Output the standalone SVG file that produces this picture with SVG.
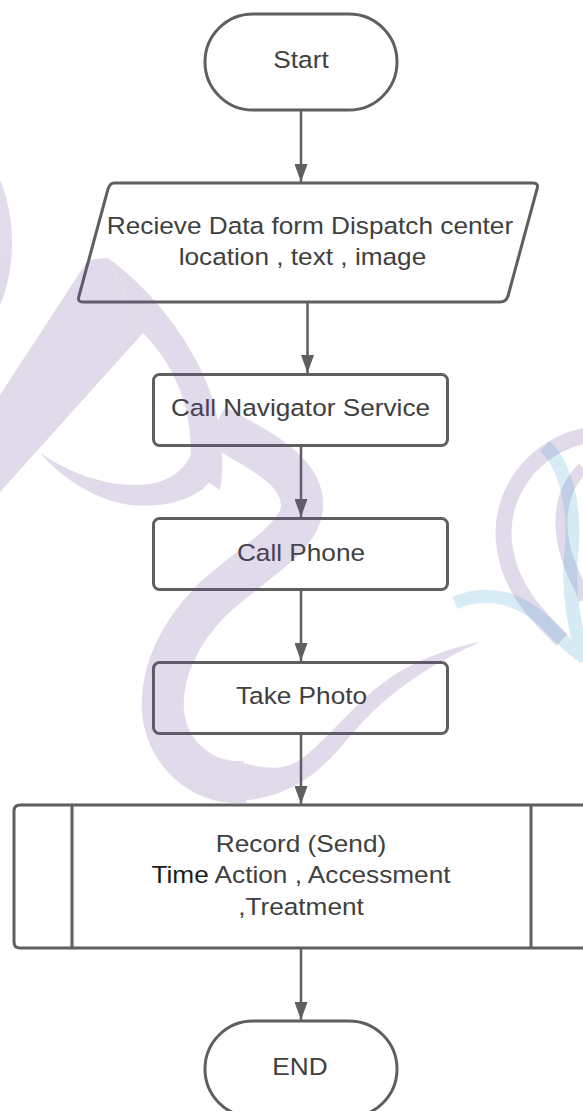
<svg xmlns="http://www.w3.org/2000/svg" width="583" height="1111" viewBox="0 0 583 1111">
  <defs>
    <style>
      .shape{fill:none;stroke:#5f5f5f;stroke-width:3;stroke-linejoin:round}
      .lbl{font-family:"Liberation Sans",Arial,sans-serif;font-size:24.5px;fill:#404040;text-anchor:middle}
      .dark{fill:#1c1c1c}
      .wire{fill:none;stroke:#5f5f5f;stroke-width:2.5}
    </style>
    <marker id="arrow" viewBox="0 0 18 13" refX="18" refY="6.5" markerWidth="18" markerHeight="13" markerUnits="userSpaceOnUse" orient="auto">
      <path d="M0,0 L18,6.5 L0,13 Z" fill="#5f5f5f"/>
    </marker>
  </defs>

  <rect width="583" height="1111" fill="#ffffff"/>

  <!-- flow steps -->
  <g id="start">
    <rect class="shape" x="205" y="14" width="192" height="96" rx="48"/>
    <g transform="translate(301,0) scale(1.07,1)">
      <text class="lbl" x="0" y="68">Start</text>
    </g>
  </g>

  <g id="receive-data">
    <path class="shape" d="M114,183 L533,183 Q539,183 537,189 L508,296 Q506,302 500,302 L83,302 Q77,302 79,296 L108,189 Q110,183 114,183 Z"/>
    <g transform="translate(306,0) scale(1.07,1)">
      <text class="lbl" y="234"><tspan x="3.7">Recieve Data form Dispatch center</tspan><tspan x="-3.3" y="265">location , text , image</tspan></text>
    </g>
  </g>

  <g id="navigator">
    <rect class="shape" x="153.5" y="374.5" width="294" height="71" rx="6"/>
    <g transform="translate(300.5,0) scale(1.07,1)">
      <text class="lbl" x="0" y="416">Call Navigator Service</text>
    </g>
  </g>

  <g id="call-phone">
    <rect class="shape" x="153.5" y="518.5" width="294" height="71" rx="6"/>
    <g transform="translate(301,0) scale(1.07,1)">
      <text class="lbl" x="0" y="561">Call Phone</text>
    </g>
  </g>

  <g id="take-photo">
    <rect class="shape" x="153.5" y="662.5" width="294" height="71" rx="6"/>
    <g transform="translate(301.5,0) scale(1.07,1)">
      <text class="lbl" x="0" y="704">Take Photo</text>
    </g>
  </g>

  <g id="record">
    <path class="shape" d="M600,805 L20,805 Q14,805 14,811 L14,942 Q14,948 20,948 L600,948"/>
    <line class="shape" x1="72" y1="805" x2="72" y2="948"/>
    <line class="shape" x1="531" y1="805" x2="531" y2="948"/>
    <g transform="translate(301,0) scale(1.07,1)">
      <text class="lbl" y="852"><tspan x="0">Record (Send)</tspan><tspan x="0" y="883.5"><tspan class="dark">Time</tspan> Action , Accessment</tspan><tspan x="0" y="915">,Treatment</tspan></text>
    </g>
  </g>

  <g id="end">
    <rect class="shape" x="205" y="1021" width="192" height="96" rx="48"/>
    <g transform="translate(300,0) scale(1.07,1)">
      <text class="lbl" x="0" y="1075">END</text>
    </g>
  </g>

  <!-- connectors -->
  <g id="connectors">
    <line class="wire" x1="301" y1="111" x2="301" y2="182" marker-end="url(#arrow)"/>
    <line class="wire" x1="307.5" y1="303" x2="307.5" y2="373" marker-end="url(#arrow)"/>
    <line class="wire" x1="301" y1="447" x2="301" y2="517" marker-end="url(#arrow)"/>
    <line class="wire" x1="301" y1="591" x2="301" y2="661" marker-end="url(#arrow)"/>
    <line class="wire" x1="301" y1="735" x2="301" y2="804" marker-end="url(#arrow)"/>
    <line class="wire" x1="301" y1="949" x2="301" y2="1020" marker-end="url(#arrow)"/>
  </g>

  <!-- background calligraphy mark, lilac strokes -->
  <g id="mark-lilac" opacity="0.2">
    <g fill="#6e4ba0">
      <path d="M0,180 C15,215 17,265 0,305 Z"/>
      <path d="M88,260 L108,258 L143,333 L0,492 L0,395 Z"/>
      <path d="M108,258 C155,292 205,355 218,420 C222,445 224,470 220,490 L190,470 C195,420 180,370 143,333 Z"/>
      <path d="M40,453 C80,480 120,488 150,484 C172,480 188,468 195,445 L222,455 C218,490 180,510 130,505 C95,500 62,478 40,453 Z"/>
      <!-- tapering tail rising to the right -->
      <path d="M236,801 C290,799 320,772 345,742 C372,710 405,676 480,642 C440,650 402,666 374,690 C346,714 322,744 300,760 C280,772 262,768 240,762 Z"/>
    </g>
    <g fill="none" stroke="#6e4ba0">
      <path stroke-width="42" d="M215,425 C255,448 305,470 302,508 C299,540 245,568 212,600 C180,632 160,672 163,712 C167,752 200,785 245,782"/>
      <path stroke-width="16" d="M585,436 C535,445 495,495 505,550 C512,592 540,618 562,640"/>
      <path stroke-width="12" d="M583,468 C560,490 556,525 568,560 C575,580 583,592 585,600"/>
    </g>
  </g>
  <g id="mark-blue" opacity="0.2" fill="none" stroke="#37a0cd">
    <path stroke-width="13" d="M455,603 C490,588 522,600 545,622 C562,640 575,652 585,658"/>
    <path stroke-width="14" d="M545,446 C568,468 576,515 571,555 C568,595 575,635 585,655"/>
  </g>
</svg>
